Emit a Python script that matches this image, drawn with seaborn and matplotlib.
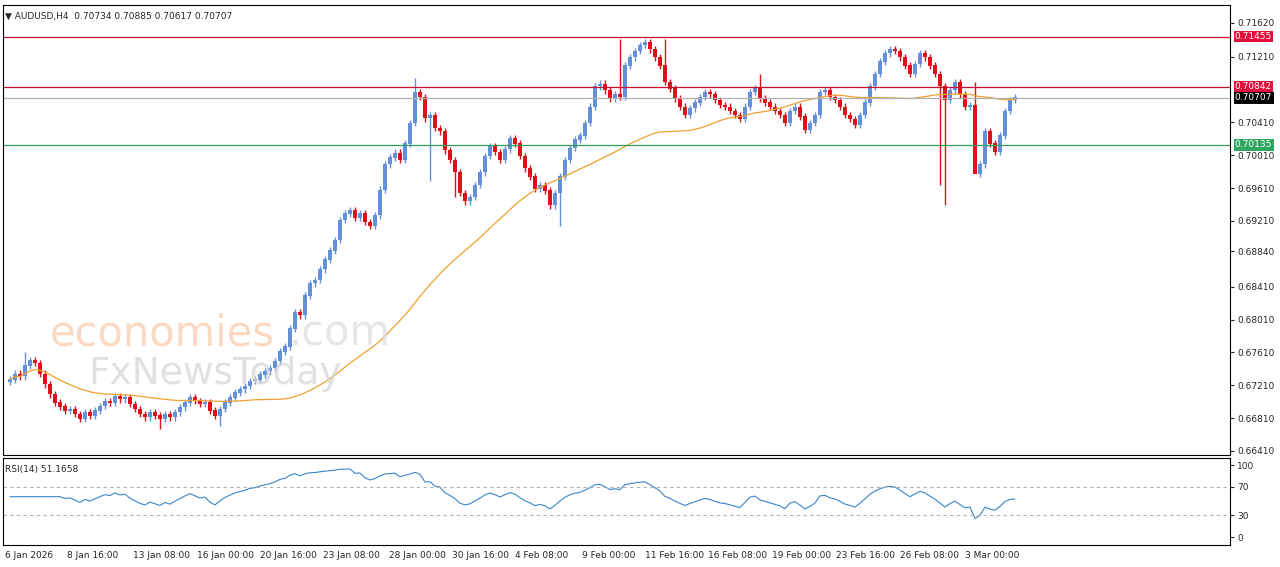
import numpy as np
import pandas as pd
import matplotlib
matplotlib.use("Agg")
import matplotlib.pyplot as plt
import seaborn as sns

# closes in pips (0.0001), H4 candles
closes = [
    6728, 6735, 6732, 6745, 6752, 6748,
    6735, 6722, 6710, 6700, 6695,
    6690, 6692, 6686, 6680, 6688, 6684,
    6690, 6696, 6702, 6700, 6708, 6704, 6706,
    6698, 6692, 6686, 6682, 6688, 6684, 6680, 6686, 6682, 6688,
    6694, 6700, 6706, 6702, 6698, 6700, 6690, 6684,
    6692, 6700, 6706, 6712, 6716, 6720, 6726, 6728, 6734, 6738,
    6742, 6750, 6762, 6768, 6790, 6810, 6806,
    6830, 6845, 6849, 6862, 6874, 6885, 6898,
    6922, 6930, 6934, 6925, 6930, 6920, 6915, 6928,
    6959, 6990, 6998, 7004, 6995, 7015, 7040, 7078,
    7072, 7046, 7050, 7034, 7030, 7007, 6995, 6980,
    6955, 6945, 6950, 6965, 6980, 7000, 7012, 7005,
    6995, 7008, 7022, 7015, 7000, 6985, 6975, 6960,
    6965, 6958, 6940, 6955, 6975, 6995, 7010, 7020,
    7025, 7040, 7060, 7085, 7088, 7080, 7070, 7075,
    7072, 7110, 7120, 7128, 7135, 7138, 7130, 7120,
    7110, 7090, 7082, 7070, 7060, 7050, 7058, 7065,
    7072, 7078, 7075, 7068, 7062, 7060, 7055, 7050,
    7045, 7060, 7078, 7082, 7070, 7065, 7060, 7055,
    7050, 7040, 7055, 7060, 7048, 7032, 7040, 7050,
    7078, 7080, 7072, 7068, 7060, 7050, 7045, 7038,
    7050, 7065, 7085, 7100, 7115, 7125, 7130, 7128,
    7120, 7110, 7100, 7112, 7125, 7120, 7110, 7100,
    7085, 7068, 7080, 7090, 7075, 7060, 7062, 6978,
    6990, 7030, 7015, 7005, 7025, 7055, 7068, 7071,
]
first_open = 6725
# notable long wicks: candle index -> (high, low) in pips
long_wicks = {3: (6762, None), 30: (None, 6668), 42: (None, 6672), 81: (7095, None),
              84: (None, 6970), 89: (None, 6950), 110: (None, 6915), 122: (7142, None),
              131: (7142, None), 150: (7100, None), 186: (None, 6965), 187: (None, 6940),
              193: (7090, 7062)}

date_labels = ["6 Jan 2026", "8 Jan 16:00", "13 Jan 08:00", "16 Jan 00:00", "20 Jan 16:00",
               "23 Jan 08:00", "28 Jan 00:00", "30 Jan 16:00", "4 Feb 08:00", "9 Feb 00:00",
               "11 Feb 16:00", "16 Feb 08:00", "19 Feb 00:00", "23 Feb 16:00", "26 Feb 08:00",
               "3 Mar 00:00"]
# label anchors as a fraction of the candle run
date_frac = [-0.005, 0.057, 0.122, 0.186, 0.249, 0.311, 0.377, 0.440, 0.503, 0.569,
             0.632, 0.695, 0.758, 0.822, 0.886, 0.950]

price_ticks = [0.71620, 0.71210, 0.70410, 0.70010, 0.69610, 0.69210, 0.68840,
               0.68410, 0.68010, 0.67610, 0.67210, 0.66810, 0.66410]
levels = [(0.71455, "#C8102E"), (0.70842, "#C8102E"), (0.70707, "#B0B0B0"), (0.70135, "#2E9E5B")]
tag_colors = {0.71455: "#E0103A", 0.70842: "#E0103A", 0.70707: "#000000", 0.70135: "#2EA860"}

c = np.array(closes) / 10000
o = np.concatenate([[first_open / 10000], c[:-1]])
hi = np.maximum(o, c) + 0.0004
lo = np.minimum(o, c) - 0.0004
for i, (h, l) in long_wicks.items():
    if h: hi[i] = h / 10000
    if l: lo[i] = l / 10000
n = len(c)
idx = np.arange(n)
df = pd.DataFrame({"i": idx, "close": c})
df["ma"] = df["close"].rolling(50, min_periods=1).mean()
d = df["close"].diff()
up = d.clip(lower=0).ewm(alpha=1/14, adjust=False, min_periods=10).mean()
dn = (-d.clip(upper=0)).ewm(alpha=1/14, adjust=False, min_periods=10).mean()
df["rsi"] = 100 - 100 / (1 + up / dn.replace(0, np.nan))
df["rsi"] = df["rsi"].bfill()

sns.set_style("white")
plt.rcParams["font.family"] = ["DejaVu Sans"]
fig = plt.figure(figsize=(12.8, 5.67), dpi=100)
ax = fig.add_axes([0.0023, 0.1975, 0.9586, 0.7937])
ax2 = fig.add_axes([0.0023, 0.0388, 0.9586, 0.1534])
span = n - 1
xlim = (-7 / 1005 * span, 1220 / 1005 * span)
date_idx = [f * span for f in date_frac]

BLUE, RED = "#6490DA", "#E0101A"
col = np.where(c >= o, BLUE, RED)
ax.vlines(idx, lo, hi, colors=col, linewidth=1)
ax.bar(idx, np.abs(c - o) + 0.00003, bottom=np.minimum(o, c), width=0.68, color=col,
       linewidth=0)
sns.lineplot(data=df, x="i", y="ma", ax=ax, color="#F0A030", linewidth=0.9)
for lv, lc in levels:
    ax.axhline(lv, color=lc, linewidth=0.9)
ax.set_xlim(*xlim)
ax.set_ylim(0.66361, 0.71839)
ax.yaxis.tick_right()
ax.set_yticks(price_ticks)
ax.set_yticklabels([f"{t:.5f}" for t in price_ticks], fontsize=6.5)
ax.set_xticks([])
ax.set_xlabel(""); ax.set_ylabel("")
ax.tick_params(axis="y", length=3, pad=2)
for lv, tc in tag_colors.items():
    ax.text(1.004, lv, f"{lv:.5f}", transform=ax.get_yaxis_transform(), fontsize=6.5,
            color="white", va="center", ha="left",
            bbox=dict(boxstyle="square,pad=0.15", fc=tc, ec="none"))
ax.text(0.002, 0.985, "▼ AUDUSD,H4  0.70734 0.70885 0.70617 0.70707", transform=ax.transAxes,
        fontsize=6.5, va="top")
ax.text(0.038, 0.27, "economies", transform=ax.transAxes, fontsize=30, color="#F9C9A8",
        alpha=0.7, va="center")
ax.text(0.233, 0.27, ".com", transform=ax.transAxes, fontsize=30, color="#DCDCDC",
        alpha=0.7, va="center")
ax.text(0.07, 0.18, "FxNewsToday", transform=ax.transAxes, fontsize=27, color="#D4D4D4",
        alpha=0.7, va="center")

sns.lineplot(data=df, x="i", y="rsi", ax=ax2, color="#3A86C8", linewidth=0.8)
for lv in (70, 30):
    ax2.axhline(lv, color="#B0B0B0", linewidth=0.8, linestyle=(0, (3, 3)))
ax2.set_xlim(*xlim)
ax2.set_ylim(-11.1, 109.7)
ax2.yaxis.tick_right()
ax2.set_yticks([0, 30, 70, 100])
ax2.set_yticklabels(["0", "30", "70", "100"], fontsize=6.5)
ax2.set_xticks(date_idx)
ax2.set_xticklabels(date_labels, fontsize=6.5, ha="left")
ax2.tick_params(axis="x", length=3, pad=1)
ax2.tick_params(axis="y", length=3, pad=2)
ax2.set_xlabel(""); ax2.set_ylabel("")
ax2.text(0.002, 0.92, "RSI(14) 51.1658", transform=ax2.transAxes, fontsize=6.5, va="top")

for a in (ax, ax2):
    for s in a.spines.values():
        s.set_color("black"); s.set_linewidth(0.8)

fig.savefig("out.png", dpi=100, facecolor="white")
